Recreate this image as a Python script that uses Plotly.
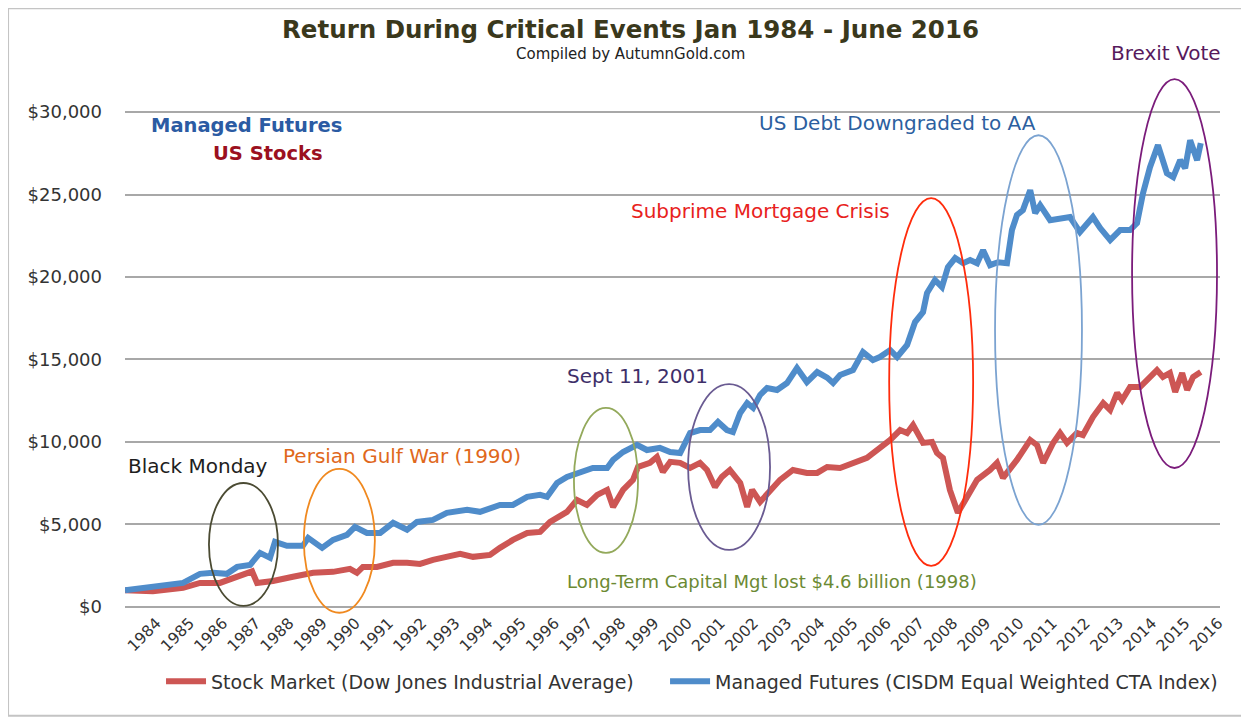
import plotly.graph_objects as go

# ---------------- data ----------------
mf_years = [1984.00, 1984.66, 1985.27, 1985.75, 1986.26, 1986.65, 1987.07, 1987.38, 1987.77, 1988.07,
            1988.37, 1988.52, 1988.88, 1989.36, 1989.52, 1989.94, 1990.27, 1990.69, 1990.93, 1991.29,
            1991.69, 1992.08, 1992.50, 1992.80, 1993.28, 1993.70, 1994.31, 1994.70, 1995.30, 1995.69,
            1996.12, 1996.51, 1996.72, 1997.02, 1997.32, 1997.71, 1998.10, 1998.53, 1998.71, 1999.01,
            1999.43, 1999.73, 2000.12, 2000.43, 2000.73, 2001.03, 2001.33, 2001.63, 2001.87, 2002.14,
            2002.32, 2002.54, 2002.75, 2002.93, 2003.14, 2003.35, 2003.65, 2003.95, 2004.25, 2004.55,
            2004.86, 2005.16, 2005.34, 2005.55, 2005.94, 2006.24, 2006.54, 2006.75, 2007.06, 2007.27,
            2007.57, 2007.81, 2008.05, 2008.17, 2008.41, 2008.62, 2008.80, 2009.02, 2009.26, 2009.47,
            2009.68, 2009.86, 2010.07, 2010.31, 2010.58, 2010.73, 2010.88, 2011.06, 2011.28, 2011.43,
            2011.58, 2011.88, 2012.18, 2012.48, 2012.78, 2013.17, 2013.39, 2013.69, 2013.99, 2014.29,
            2014.50, 2014.68, 2014.89, 2015.13, 2015.40, 2015.59, 2015.80, 2015.95, 2016.10, 2016.31,
            2016.42]
managed_futures = [1000, 1150, 1330, 1450, 2000, 2060, 2000, 2420, 2545, 3270,
                   2970, 3940, 3700, 3700, 4180, 3575, 4060, 4360, 4850, 4480,
                   4480, 5090, 4670, 5150, 5270, 5700, 5880, 5760, 6180, 6180,
                   6670, 6790, 6670, 7510, 7880, 8180, 8420, 8420, 8910, 9390,
                   9820, 9510, 9640, 9390, 9330, 10540, 10720, 10720, 11210, 10720,
                   10600, 11760, 12360, 12060, 12850, 13270, 13150, 13570, 14480, 13630,
                   14240, 13900, 13570, 14060, 14360, 15450, 14970, 15150, 15570, 15150,
                   15880, 17270, 17870, 19030, 19820, 19390, 20600, 21150, 20840, 21030,
                   20840, 21630, 20720, 20900, 20840, 22850, 23760, 24060, 25270, 23880,
                   24360, 23450, 23570, 23640, 22730, 23640, 22970, 22240, 22850, 22850,
                   23270, 25090, 26660, 28000, 26300, 26060, 27090, 26600, 28300, 27090,
                   28120]

dj_years = [1984.00, 1984.84, 1985.75, 1986.26, 1986.86, 1987.25, 1987.68, 1987.83, 1987.98, 1988.46,
            1989.06, 1989.67, 1990.27, 1990.78, 1990.99, 1991.17, 1991.59, 1992.08, 1992.50, 1992.89,
            1993.28, 1994.10, 1994.49, 1995.00, 1995.30, 1995.69, 1996.12, 1996.51, 1996.81, 1997.32,
            1997.62, 1997.92, 1998.23, 1998.53, 1998.71, 1999.01, 1999.31, 1999.46, 1999.82, 2000.03,
            2000.21, 2000.43, 2000.73, 2001.03, 2001.33, 2001.54, 2001.78, 2001.99, 2002.23, 2002.54,
            2002.75, 2002.90, 2003.14, 2003.44, 2003.74, 2004.13, 2004.55, 2004.86, 2005.16, 2005.55,
            2005.94, 2006.36, 2006.75, 2007.06, 2007.36, 2007.57, 2007.75, 2008.05, 2008.32, 2008.47,
            2008.65, 2008.86, 2009.10, 2009.38, 2009.68, 2010.07, 2010.28, 2010.46, 2010.88, 2011.28,
            2011.49, 2011.67, 2011.97, 2012.18, 2012.39, 2012.69, 2012.87, 2013.17, 2013.48, 2013.69,
            2013.90, 2014.05, 2014.29, 2014.59, 2014.89, 2015.10, 2015.28, 2015.49, 2015.65, 2015.86,
            2016.01, 2016.19, 2016.42]
stock_market = [1000, 950, 1150, 1450, 1450, 1750, 2000, 2150, 1450, 1570,
                1820, 2060, 2120, 2300, 2060, 2420, 2420, 2670, 2670, 2600,
                2850, 3210, 3030, 3150, 3575, 4060, 4480, 4540, 5150, 5760,
                6480, 6180, 6790, 7090, 6060, 7090, 7700, 8480, 8730, 9090,
                8180, 8790, 8730, 8420, 8730, 8300, 7270, 7880, 8300, 7510,
                6060, 7090, 6360, 7090, 7700, 8300, 8120, 8120, 8480, 8420,
                8730, 9030, 9640, 10120, 10720, 10540, 11030, 9940, 10000, 9330,
                9030, 7090, 5700, 6670, 7700, 8300, 8730, 7820, 8910, 10120,
                9800, 8730, 9940, 10540, 9940, 10540, 10420, 11510, 12360, 11940,
                12970, 12540, 13330, 13330, 13940, 14360, 13940, 14180, 13030, 14180,
                13150, 13940, 14240]

tick_years = list(range(1984, 2017))
y_ticks = [0, 5000, 10000, 15000, 20000, 25000, 30000]

series_names = ["Stock Market (Dow Jones Industrial Average)",
                "Managed Futures (CISDM Equal Weighted CTA Index)"]

# events: label, ellipse extent (years / dollars), label position, colours
events = [
    dict(label="Black Monday", x0=1986.53, x1=1988.61, y0=60, y1=7510,
         lx=1986.2, ly=8545, ring="#4b4b33", text="#1e1e1e", size=20),
    dict(label="Persian Gulf War (1990)", x0=1989.39, x1=1991.53, y0=-360, y1=8360,
         lx=1992.35, ly=9150, ring="#f0891f", text="#e0681c", size=20),
    dict(label="Long-Term Capital Mgt lost $4.6 billion (1998)", x0=1997.53, x1=1999.46, y0=3270, y1=12060,
         lx=2003.5, ly=1515, ring="#93a95b", text="#6b8a33", size=18),
    dict(label="Sept 11, 2001", x0=2000.97, x1=2003.44, y0=3450, y1=13510,
         lx=1999.43, ly=14000, ring="#6a5b92", text="#3e2f69", size=20),
    dict(label="Subprime Mortgage Crisis", x0=2007.03, x1=2009.56, y0=2480, y1=24790,
         lx=2003.14, ly=24000, ring="#ff2c0c", text="#e8221c", size=20),
    dict(label="US Debt Downgraded to AA", x0=2010.22, x1=2012.84, y0=4970, y1=28600,
         lx=2007.27, ly=29330, ring="#7ba3d1", text="#2c5f9f", size=20),
    dict(label="Brexit Vote", x0=2014.35, x1=2016.91, y0=8420, y1=32000,
         lx=None, ly=None, ring="#7b1c7b", text="#571a5c", size=20),
]

# ---------------- figure ----------------
fig = go.Figure()
fig.add_trace(go.Scatter(x=dj_years, y=stock_market, mode="lines", name=series_names[0],
                         line=dict(color="#cd5654", width=6), legend="legend"))
fig.add_trace(go.Scatter(x=mf_years, y=managed_futures, mode="lines", name=series_names[1],
                         line=dict(color="#4f8cca", width=6), legend="legend2"))

for ev in events:
    fig.add_shape(type="circle", xref="x", yref="y", x0=ev["x0"], x1=ev["x1"], y0=ev["y0"], y1=ev["y1"],
                  line=dict(color=ev["ring"], width=1.8), layer="above")
    if ev["lx"] is not None:
        fig.add_annotation(x=ev["lx"], y=ev["ly"], xref="x", yref="y", text=ev["label"], showarrow=False,
                           xanchor="center", yanchor="middle",
                           font=dict(family="DejaVu Sans", size=ev["size"], color=ev["text"]))
    else:
        fig.add_annotation(x=0.9507, y=1.0231, xref="paper", yref="paper", text=ev["label"], showarrow=False,
                           xanchor="center", yanchor="middle",
                           font=dict(family="DejaVu Sans", size=ev["size"], color=ev["text"]))

fig.add_annotation(x=1987.65, y=29210, xref="x", yref="y", text="<b>Managed Futures</b>", showarrow=False,
                   xanchor="center", yanchor="middle",
                   font=dict(family="DejaVu Sans", size=19.5, color="#2b5ba3"))
fig.add_annotation(x=1988.31, y=27510, xref="x", yref="y", text="<b>US Stocks</b>", showarrow=False,
                   xanchor="center", yanchor="middle",
                   font=dict(family="DejaVu Sans", size=19.5, color="#9b1020"))

fig.add_annotation(x=0.4612, y=1.0655, xref="paper", yref="paper",
                   text="<b>Return During Critical Events Jan 1984 - June 2016</b>", showarrow=False,
                   xanchor="center", yanchor="middle", borderpad=0,
                   font=dict(family="DejaVu Sans", size=24.5, color="#3a381c"))
fig.add_annotation(x=0.4612, y=1.0222, xref="paper", yref="paper",
                   text="Compiled by AutumnGold.com", showarrow=False,
                   xanchor="center", yanchor="middle", borderpad=0,
                   font=dict(family="DejaVu Sans", size=15, color="#222222"))

# outer frame
fig.add_shape(type="rect", xref="paper", yref="paper", x0=-0.1068, x1=1.0247, y0=-0.1728, y1=1.1043,
              line=dict(color="#c4c4c4", width=2), layer="below")

legend_style = dict(orientation="h", xanchor="left", y=-0.111, yanchor="middle",
                    font=dict(size=19, color="#333333"), bgcolor="rgba(0,0,0,0)",
                    itemwidth=40, tracegroupgap=0)

fig.update_layout(
    width=1241, height=711,
    margin=dict(l=117, r=29, t=58, b=99, pad=0),
    paper_bgcolor="white", plot_bgcolor="white",
    font=dict(family="DejaVu Sans", color="#333333"),
    showlegend=True,
    legend=dict(x=0.0329, **legend_style),
    legend2=dict(x=0.4932, **legend_style),
    xaxis=dict(range=[1984.0, 2017.0], tickmode="array",
               tickvals=[y + 0.95 for y in tick_years], ticktext=[str(y) for y in tick_years],
               tickangle=-45, tickfont=dict(size=15.5, color="#333333"),
               showgrid=False, zeroline=False, showline=False, ticks="", ticklabelstandoff=-10),
    yaxis=dict(range=[-800, 32800], tickmode="array", tickvals=y_ticks, tickformat="$,.0f",
               tickfont=dict(size=18, color="#333333"), showgrid=True, gridcolor="#a8a8a8",
               gridwidth=1.5, zeroline=False, showline=False, ticks="", ticklabelstandoff=22),
)

fig.write_html("out.html")
